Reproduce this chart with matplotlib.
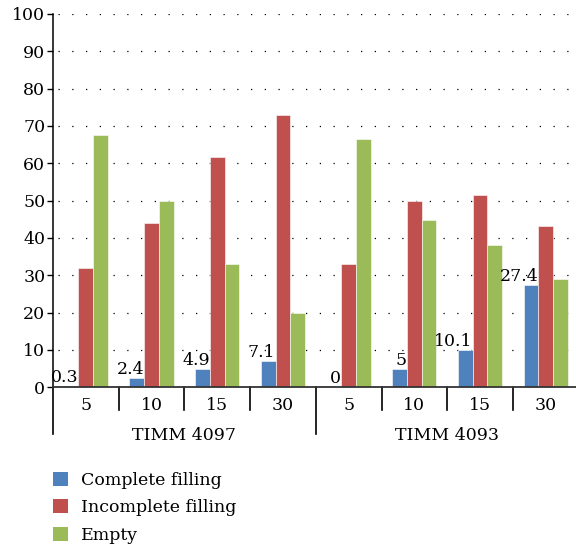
import matplotlib.pyplot as plt
from matplotlib.patches import Patch
import numpy as np

plt.rcParams['font.family'] = ['DejaVu Serif']

# category / group labels
times = ["5", "10", "15", "30", "5", "10", "15", "30"]
strains = ["TIMM 4097", "TIMM 4093"]

# percentages per category
complete = [0.3, 2.4, 4.9, 7.1, 0, 5, 10.1, 27.4]
incomplete = [32.0, 44.1, 61.6, 72.9, 33.1, 49.9, 51.4, 43.2]
empty = [67.5, 50.0, 33.1, 19.8, 66.5, 44.9, 38.2, 29.1]

series_names = ["Complete filling", "Incomplete filling", "Empty"]
colors = ["#4F81BD", "#C0504D", "#9BBB59"]

fs = 12.5
W, H = 576, 550

fig = plt.figure(figsize=(W / 100, H / 100), dpi=100)
ax = fig.add_axes([53 / W, 1 - 387.2 / H, 525.6 / W, 373.2 / H])

x = np.arange(len(times)) + 0.5
bw = 0.224
for k, vals in enumerate([complete, incomplete, empty]):
    ax.bar(x + (k - 1) * bw, vals, width=bw, color=colors[k],
           edgecolor="white", linewidth=0.4, zorder=2)

# value labels for complete filling, right-aligned to the bar
for xi, v in zip(x, complete):
    ax.text(xi - bw / 2, v, f"{v:g}", ha="right", va="bottom",
            fontsize=fs, color="black", zorder=3)

ax.set_xlim(0, len(times))
ax.set_ylim(0, 100)
ax.set_yticks(np.arange(0, 101, 10))
ax.tick_params(axis="y", direction="out", length=4, width=1, pad=1.5,
               labelsize=fs)
ax.set_xticks([])

ax.yaxis.grid(True, color="black", linewidth=0.9, linestyle=(7, (1, 10)))
ax.set_axisbelow(True)

for side in ["top", "right"]:
    ax.spines[side].set_visible(False)
ax.spines["left"].set_linewidth(1.1)
ax.spines["bottom"].set_linewidth(1.3)
ax.spines["bottom"].set_color("#333333")

# separators and labels under the axis
tr = ax.get_xaxis_transform()
px = 1 / 373.2
for i in range(len(times) + 1):
    depth = 47 * px if i % 4 == 0 else 23 * px
    ax.plot([i, i], [0, -depth], transform=tr, color="black",
            linewidth=1.2, clip_on=False)
for xi, t in zip(x, times):
    ax.text(xi, -18 * px, t, transform=tr, ha="center", va="center",
            fontsize=fs)
for g, name in enumerate(strains):
    ax.text(4 * g + 2, -48 * px, name, transform=tr, ha="center",
            va="center", fontsize=fs)

handles = [Patch(facecolor=c) for c in colors]
fig.legend(handles, series_names, loc="upper left",
           bbox_to_anchor=(53 / W, 1 - 472 / H), frameon=False,
           fontsize=fs, handlelength=0.86, handleheight=0.86,
           handletextpad=0.75, labelspacing=0.6, borderpad=0,
           borderaxespad=0)

fig.savefig("out.png", dpi=100)
